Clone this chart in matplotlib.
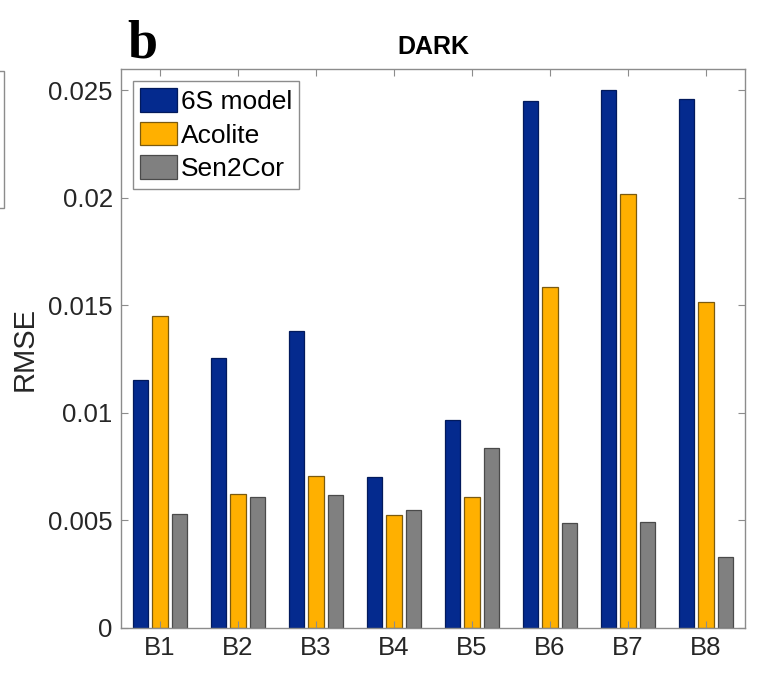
import numpy as np
import matplotlib
matplotlib.use("Agg")
import matplotlib.pyplot as plt
from matplotlib.patches import Rectangle

plt.rcParams['font.family'] = ['Liberation Sans', 'DejaVu Sans']

bands = ['B1', 'B2', 'B3', 'B4', 'B5', 'B6', 'B7', 'B8']
model_6s = [0.01155, 0.01258, 0.01381, 0.00704, 0.00969, 0.02452, 0.0250, 0.0246]
acolite = [0.01452, 0.00623, 0.00706, 0.00527, 0.00608, 0.01585, 0.0202, 0.01517]
sen2cor = [0.0053, 0.0061, 0.0062, 0.00548, 0.00837, 0.00488, 0.00492, 0.0033]

series = [('6S model', model_6s, '#042A8E', '#021a5c'),
          ('Acolite', acolite, '#FFB000', '#7a5a10'),
          ('Sen2Cor', sen2cor, '#808080', '#4a4a4a')]

fig = plt.figure(figsize=(7.72, 6.91), dpi=100)
ax = fig.add_axes([0.1567, 0.0912, 0.8083, 0.809])

x = np.arange(1, len(bands) + 1)
offsets = [-0.25, 0.0, 0.25]
for (name, vals, fc, ec), off in zip(series, offsets):
    ax.bar(x + off, vals, width=0.2, color=fc, edgecolor=ec, linewidth=0.9, label=name)

ax.set_xlim(0.5, 8.5)
ax.set_ylim(0, 0.026)
ax.set_xticks(x)
ax.set_xticklabels(bands)
ax.set_yticks([0, 0.005, 0.01, 0.015, 0.02, 0.025])
ax.set_yticklabels(['0', '0.005', '0.01', '0.015', '0.02', '0.025'])
ax.tick_params(direction='in', top=True, right=True, length=5, width=0.8,
               colors='#8c8c8c', labelcolor='#262626', labelsize=18.5, pad=6)
for s in ax.spines.values():
    s.set_color('#8c8c8c')
    s.set_linewidth(1.0)

ax.set_ylabel('RMSE', fontsize=21, color='#262626', labelpad=7)
ax.set_title('DARK', fontsize=18, fontweight='bold', pad=11)

leg = ax.legend(loc='upper left', fontsize=19, handlelength=1.4, handleheight=0.98,
                labelspacing=0.3, handletextpad=0.13, borderpad=0.28,
                borderaxespad=0.45, fancybox=False, framealpha=1)
leg.get_frame().set_edgecolor('#8c8c8c')
leg.get_frame().set_linewidth(1.0)

fig.text(127 / 772, 1 - 57 / 691, 'b', fontsize=39, fontweight='bold',
         family='Liberation Serif', va='baseline', ha='left')

# edge of neighbouring panel's legend box
fig.patches.append(Rectangle((-0.05, 1 - 208 / 691), 0.05 + 4 / 772, (208 - 71) / 691,
                             transform=fig.transFigure, fill=False,
                             edgecolor='#8c8c8c', linewidth=1.0))

fig.savefig('out.png', dpi=100)
